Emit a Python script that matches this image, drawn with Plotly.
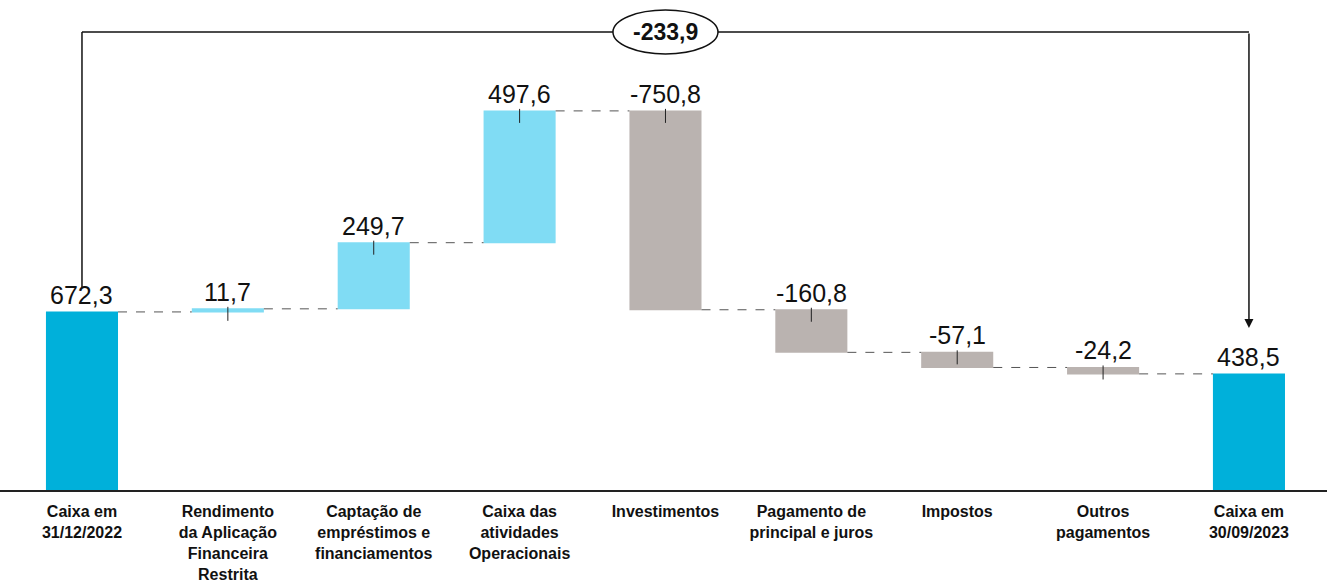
import plotly.graph_objects as go

categories = [
    "Caixa em<br>31/12/2022",
    "Rendimento<br>da Aplicação<br>Financeira<br>Restrita",
    "Captação de<br>empréstimos e<br>financiamentos",
    "Caixa das<br>atividades<br>Operacionais",
    "Investimentos",
    "Pagamento de<br>principal e juros",
    "Impostos",
    "Outros<br>pagamentos",
    "Caixa em<br>30/09/2023",
]
values = [672.3, 11.7, 249.7, 497.6, -750.8, -160.8, -57.1, -24.2, 438.5]
measures = ["absolute"] + ["relative"] * 7 + ["total"]
labels = ["672,3", "11,7", "249,7", "497,6", "-750,8", "-160,8", "-57,1", "-24,2", "438,5"]
variation_label = "-233,9"

# style constants
W, H = 1327, 582
MB = 92
YMAX = 1850.0
PX = (H - MB) / YMAX  # px per data unit
def px(n):
    return n / PX

C_TOTAL = "#00B0DA"
C_UP = "#80DCF4"
C_DOWN = "#BAB3B0"
VAL_FONT = "Liberation Sans, Arial, sans-serif"
LBL_FONT = "Liberation Sans Narrow, Arial Narrow, Liberation Sans, Arial, sans-serif"

# compute bar tops from data
tops = []
level = 0.0
for m, v in zip(measures, values):
    if m == "absolute":
        tops.append(v)
        level = v
    elif m == "total":
        tops.append(level)
    else:
        start = level
        level = level + v
        tops.append(max(start, level))

fig = go.Figure()
fig.add_trace(go.Waterfall(
    x=list(range(len(categories))),
    y=values,
    measure=measures,
    textinfo="none",
    connector=dict(mode="between", line=dict(color="#555555", width=1, dash="dash")),
    increasing=dict(marker=dict(color=C_UP)),
    decreasing=dict(marker=dict(color=C_DOWN)),
    totals=dict(marker=dict(color=C_TOTAL)),
    hoverinfo="skip",
))

annotations = []
shapes = []
for i, (t, lab) in enumerate(zip(tops, labels)):
    annotations.append(dict(x=i, y=t, text=lab, showarrow=False, yanchor="middle",
                            yshift=17, font=dict(family=VAL_FONT, size=25, color="#111111")))
    if measures[i] == "relative":
        shapes.append(dict(type="line", x0=i, x1=i, y0=t + px(2), y1=t - px(12),
                           xref="x", yref="y", line=dict(color="#222222", width=1)))

# bracket
n = len(categories)
y_br = px(H - MB - 32)
shapes.append(dict(type="line", x0=0, x1=0, y0=tops[0] + px(25), y1=y_br,
                   xref="x", yref="y", line=dict(color="#111111", width=1.5)))
shapes.append(dict(type="line", x0=0, x1=n - 1, y0=y_br, y1=y_br,
                   xref="x", yref="y", line=dict(color="#111111", width=1.5)))
mid = (n - 1) / 2
shapes.append(dict(type="circle", x0=mid - 0.36, x1=mid + 0.36, y0=y_br - px(22), y1=y_br + px(22),
                   xref="x", yref="y", line=dict(color="#111111", width=1.5), fillcolor="white",
                   layer="above"))
annotations.append(dict(x=mid, y=y_br, text="<b>" + variation_label + "</b>", showarrow=False,
                        font=dict(family=LBL_FONT, size=23, color="#111111")))
annotations.append(dict(x=n - 1, y=tops[-1] + px(46), ax=n - 1, ay=y_br, axref="x", ayref="y",
                        xref="x", yref="y", text="", showarrow=True, arrowhead=2, arrowsize=1.2,
                        arrowwidth=1.5, arrowcolor="#111111", standoff=0))

fig.update_layout(
    width=W, height=H,
    margin=dict(l=0, r=0, t=0, b=MB),
    plot_bgcolor="white", paper_bgcolor="white",
    showlegend=False,
    waterfallgap=0.506,
    shapes=shapes,
    annotations=annotations,
    xaxis=dict(
        range=[-0.562, 8.535],
        tickmode="array",
        tickvals=list(range(n)),
        ticktext=["<b>" + c + "</b>" for c in categories],
        tickfont=dict(family=LBL_FONT, size=16, color="#111111"),
        showgrid=False, zeroline=False,
        showline=True, linecolor="#222222", linewidth=2,
        ticks="", ticklabelstandoff=6,
    ),
    yaxis=dict(range=[0, YMAX], visible=False, showgrid=False, zeroline=False),
)

fig.write_html("out.html")
